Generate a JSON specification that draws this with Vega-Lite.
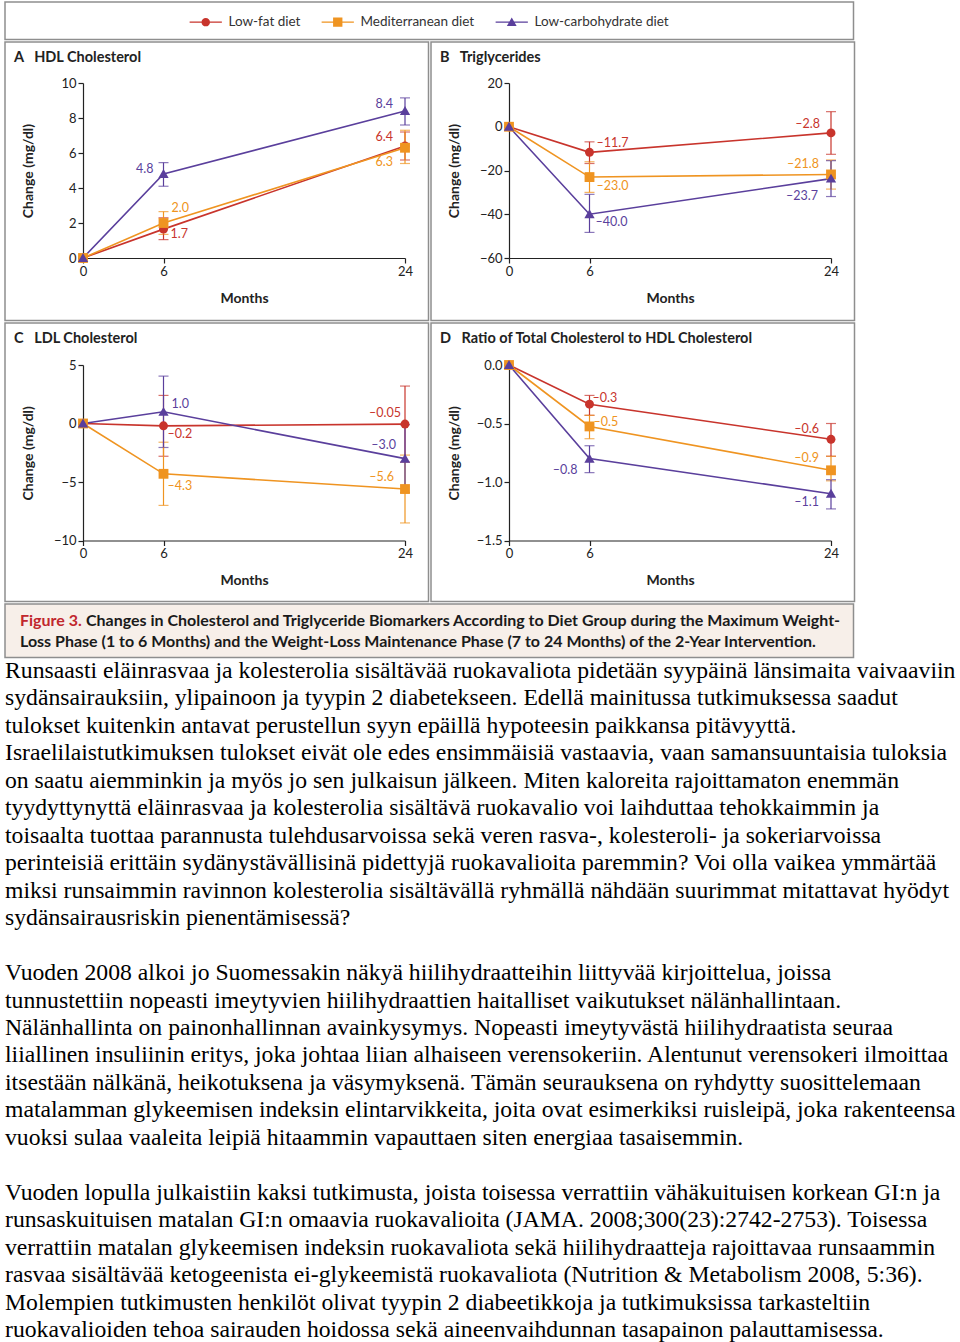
{
  "$schema": "https://vega.github.io/schema/vega-lite/v6.json",
  "background": "white",
  "padding": {"left": 4, "top": 1, "right": 0, "bottom": 0},
  "spacing": 0,
  "config": {
    "font": "Lato",
    "view": {"stroke": null},
    "axis": {"labelFont": "Lato", "titleFont": "Lato"},
    "title": {"font": "Lato"}
  },
  "datasets": {
    "pts": [
      {"panel": "A", "diet": "Low-fat diet", "month": 0, "value": 0, "lo": null, "hi": null, "label": null},
      {"panel": "A", "diet": "Low-fat diet", "month": 6, "value": 1.65, "lo": 1.05, "hi": 2.3, "label": "1.7"},
      {"panel": "A", "diet": "Low-fat diet", "month": 24, "value": 6.4, "lo": 5.6, "hi": 7.2, "label": "6.4"},
      {"panel": "A", "diet": "Mediterranean diet", "month": 0, "value": 0, "lo": null, "hi": null, "label": null},
      {"panel": "A", "diet": "Mediterranean diet", "month": 6, "value": 2.0, "lo": 1.35, "hi": 2.65, "label": "2.0"},
      {"panel": "A", "diet": "Mediterranean diet", "month": 24, "value": 6.3, "lo": 5.4, "hi": 7.3, "label": "6.3"},
      {"panel": "A", "diet": "Low-carbohydrate diet", "month": 0, "value": 0, "lo": null, "hi": null, "label": null},
      {"panel": "A", "diet": "Low-carbohydrate diet", "month": 6, "value": 4.8, "lo": 4.1, "hi": 5.45, "label": "4.8"},
      {"panel": "A", "diet": "Low-carbohydrate diet", "month": 24, "value": 8.4, "lo": 7.6, "hi": 9.15, "label": "8.4"},
      {"panel": "B", "diet": "Low-fat diet", "month": 0, "value": 0, "lo": null, "hi": null, "label": null},
      {"panel": "B", "diet": "Low-fat diet", "month": 6, "value": -11.7, "lo": -16.8, "hi": -6.9, "label": "–11.7"},
      {"panel": "B", "diet": "Low-fat diet", "month": 24, "value": -2.8, "lo": -12.6, "hi": 6.9, "label": "–2.8"},
      {"panel": "B", "diet": "Mediterranean diet", "month": 0, "value": 0, "lo": null, "hi": null, "label": null},
      {"panel": "B", "diet": "Mediterranean diet", "month": 6, "value": -23.0, "lo": -30.0, "hi": -16.0, "label": "–23.0"},
      {"panel": "B", "diet": "Mediterranean diet", "month": 24, "value": -21.8, "lo": -28.5, "hi": -15.2, "label": "–21.8"},
      {"panel": "B", "diet": "Low-carbohydrate diet", "month": 0, "value": 0, "lo": null, "hi": null, "label": null},
      {"panel": "B", "diet": "Low-carbohydrate diet", "month": 6, "value": -40.0, "lo": -48.3, "hi": -30.9, "label": "–40.0"},
      {"panel": "B", "diet": "Low-carbohydrate diet", "month": 24, "value": -23.7, "lo": -31.9, "hi": -15.5, "label": "–23.7"},
      {"panel": "C", "diet": "Low-fat diet", "month": 0, "value": 0, "lo": null, "hi": null, "label": null},
      {"panel": "C", "diet": "Low-fat diet", "month": 6, "value": -0.2, "lo": -2.8, "hi": 2.4, "label": "–0.2"},
      {"panel": "C", "diet": "Low-fat diet", "month": 24, "value": -0.05, "lo": -3.3, "hi": 3.2, "label": "–0.05"},
      {"panel": "C", "diet": "Mediterranean diet", "month": 0, "value": 0, "lo": null, "hi": null, "label": null},
      {"panel": "C", "diet": "Mediterranean diet", "month": 6, "value": -4.3, "lo": -7.0, "hi": -1.6, "label": "–4.3"},
      {"panel": "C", "diet": "Mediterranean diet", "month": 24, "value": -5.6, "lo": -8.5, "hi": -2.7, "label": "–5.6"},
      {"panel": "C", "diet": "Low-carbohydrate diet", "month": 0, "value": 0, "lo": null, "hi": null, "label": null},
      {"panel": "C", "diet": "Low-carbohydrate diet", "month": 6, "value": 1.0, "lo": -2.05, "hi": 4.05, "label": "1.0"},
      {"panel": "C", "diet": "Low-carbohydrate diet", "month": 24, "value": -3.0, "lo": -5.9, "hi": -0.1, "label": "–3.0"},
      {"panel": "D", "diet": "Low-fat diet", "month": 0, "value": 0, "lo": null, "hi": null, "label": null},
      {"panel": "D", "diet": "Low-fat diet", "month": 6, "value": -0.335, "lo": -0.43, "hi": -0.26, "label": "–0.3"},
      {"panel": "D", "diet": "Low-fat diet", "month": 24, "value": -0.635, "lo": -0.78, "hi": -0.5, "label": "–0.6"},
      {"panel": "D", "diet": "Mediterranean diet", "month": 0, "value": 0, "lo": null, "hi": null, "label": null},
      {"panel": "D", "diet": "Mediterranean diet", "month": 6, "value": -0.525, "lo": -0.63, "hi": -0.43, "label": "–0.5"},
      {"panel": "D", "diet": "Mediterranean diet", "month": 24, "value": -0.9, "lo": -0.99, "hi": -0.78, "label": "–0.9"},
      {"panel": "D", "diet": "Low-carbohydrate diet", "month": 0, "value": 0, "lo": null, "hi": null, "label": null},
      {"panel": "D", "diet": "Low-carbohydrate diet", "month": 6, "value": -0.8, "lo": -0.92, "hi": -0.69, "label": "–0.8"},
      {"panel": "D", "diet": "Low-carbohydrate diet", "month": 24, "value": -1.1, "lo": -1.23, "hi": -0.98, "label": "–1.1"}
    ],
    "cap": [
      {"line": 0, "part": "fig", "txt": "Figure 3."},
      {"line": 0, "part": "rest", "txt": "Changes in Cholesterol and Triglyceride Biomarkers According to Diet Group during the Maximum Weight-"},
      {"line": 1, "part": "rest", "txt": "Loss Phase (1 to 6 Months) and the Weight-Loss Maintenance Phase (7 to 24 Months) of the 2-Year Intervention."}
    ],
    "para": [
      {"slot": 0, "txt": "Runsaasti eläinrasvaa ja kolesterolia sisältävää ruokavaliota pidetään syypäinä länsimaita vaivaaviin"},
      {"slot": 1, "txt": "sydänsairauksiin, ylipainoon ja tyypin 2 diabetekseen. Edellä mainitussa tutkimuksessa saadut"},
      {"slot": 2, "txt": "tulokset kuitenkin antavat perustellun syyn epäillä hypoteesin paikkansa pitävyyttä."},
      {"slot": 3, "txt": "Israelilaistutkimuksen tulokset eivät ole edes ensimmäisiä vastaavia, vaan samansuuntaisia tuloksia"},
      {"slot": 4, "txt": "on saatu aiemminkin ja myös jo sen julkaisun jälkeen. Miten kaloreita rajoittamaton enemmän"},
      {"slot": 5, "txt": "tyydyttynyttä eläinrasvaa ja kolesterolia sisältävä ruokavalio voi laihduttaa tehokkaimmin ja"},
      {"slot": 6, "txt": "toisaalta tuottaa parannusta tulehdusarvoissa sekä veren rasva-, kolesteroli- ja sokeriarvoissa"},
      {"slot": 7, "txt": "perinteisiä erittäin sydänystävällisinä pidettyjä ruokavalioita paremmin? Voi olla vaikea ymmärtää"},
      {"slot": 8, "txt": "miksi runsaimmin ravinnon kolesterolia sisältävällä ryhmällä nähdään suurimmat mitattavat hyödyt"},
      {"slot": 9, "txt": "sydänsairausriskin pienentämisessä?"},
      {"slot": 11, "txt": "Vuoden 2008 alkoi jo Suomessakin näkyä hiilihydraatteihin liittyvää kirjoittelua, joissa"},
      {"slot": 12, "txt": "tunnustettiin nopeasti imeytyvien hiilihydraattien haitalliset vaikutukset nälänhallintaan."},
      {"slot": 13, "txt": "Nälänhallinta on painonhallinnan avainkysymys. Nopeasti imeytyvästä hiilihydraatista seuraa"},
      {"slot": 14, "txt": "liiallinen insuliinin eritys, joka johtaa liian alhaiseen verensokeriin. Alentunut verensokeri ilmoittaa"},
      {"slot": 15, "txt": "itsestään nälkänä, heikotuksena ja väsymyksenä. Tämän seurauksena on ryhdytty suosittelemaan"},
      {"slot": 16, "txt": "matalamman glykeemisen indeksin elintarvikkeita, joita ovat esimerkiksi ruisleipä, joka rakenteensa"},
      {"slot": 17, "txt": "vuoksi sulaa vaaleita leipiä hitaammin vapauttaen siten energiaa tasaisemmin."},
      {"slot": 19, "txt": "Vuoden lopulla julkaistiin kaksi tutkimusta, joista toisessa verrattiin vähäkuituisen korkean GI:n ja"},
      {"slot": 20, "txt": "runsaskuituisen matalan GI:n omaavia ruokavalioita (JAMA. 2008;300(23):2742-2753). Toisessa"},
      {"slot": 21, "txt": "verrattiin matalan glykeemisen indeksin ruokavaliota sekä hiilihydraatteja rajoittavaa runsaammin"},
      {"slot": 22, "txt": "rasvaa sisältävää ketogeenista ei-glykeemistä ruokavaliota (Nutrition & Metabolism 2008, 5:36)."},
      {"slot": 23, "txt": "Molempien tutkimusten henkilöt olivat tyypin 2 diabeetikkoja ja tutkimuksissa tarkasteltiin"},
      {"slot": 24, "txt": "ruokavalioiden tehoa sairauden hoidossa sekä aineenvaihdunnan tasapainon palauttamisessa."}
    ]
  },
  "resolve": {
    "scale": {"color": "independent", "shape": "independent", "x": "independent", "y": "independent"},
    "legend": {"color": "independent", "shape": "independent"}
  },
  "vconcat": [
    {
      "width": 848.5,
      "height": 37.5,
      "view": {"stroke": "#8e8e8e", "strokeWidth": 1.5},
      "data": {"name": "pts"},
      "transform": [{"filter": "datum.panel === 'A' && datum.month === 0"}],
      "mark": {"type": "point", "filled": true, "opacity": 0},
      "encoding": {
        "color": {
          "field": "diet", "type": "nominal",
          "scale": {"domain": ["Low-fat diet", "Mediterranean diet", "Low-carbohydrate diet"], "range": ["#c8342c", "#ef9421", "#5a3f9c"]},
          "legend": {"orient": "none", "legendX": 194, "legendY": 13, "direction": "horizontal", "title": null, "symbolSize": 72, "symbolOpacity": 1, "symbolStrokeWidth": 0, "labelFont": "Lato", "labelFontSize": 13.5, "labelColor": "#333", "labelOffset": 16, "columnPadding": 20}
        },
        "shape": {
          "field": "diet", "type": "nominal",
          "scale": {"domain": ["Low-fat diet", "Mediterranean diet", "Low-carbohydrate diet"], "range": [
            "M-3.8,-0.14L3.8,-0.14L3.8,0.14L-3.8,0.14Z M-1,0A1,1 0 1,1 1,0A1,1 0 1,1 -1,0Z",
            "M-3.8,-0.14L3.8,-0.14L3.8,0.14L-3.8,0.14Z M-1.1,-1.1L1.1,-1.1L1.1,1.1L-1.1,1.1Z",
            "M-3.8,-0.14L3.8,-0.14L3.8,0.14L-3.8,0.14Z M0,-1.1L1.15,0.9L-1.15,0.9Z"
          ]},
          "legend": {"orient": "none", "legendX": 194, "legendY": 13, "direction": "horizontal", "title": null, "symbolSize": 72, "symbolOpacity": 1, "symbolStrokeWidth": 0, "labelFont": "Lato", "labelFontSize": 13.5, "labelColor": "#333", "labelOffset": 16, "columnPadding": 20}
        }
      }
    },
    {
      "hconcat": [
        {
          "width": 423.5, "height": 278.5,
          "view": {"stroke": "#8e8e8e", "strokeWidth": 1.5},
          "title": {"text": "A\u00a0\u00a0\u00a0HDL Cholesterol", "anchor": "start", "frame": "group", "offset": -23, "dx": 9, "fontSize": 14.5, "fontWeight": "bold", "color": "#222"},
          "data": {"name": "pts"},
          "transform": [{"filter": "datum.panel === 'A'"}],
          "encoding": {
            "x": {"field": "month", "type": "quantitative", "scale": {"domain": [0, 24], "range": [78, 400]},
              "axis": {"values": [0, 6, 24], "offset": -62.5, "title": "Months", "format": "d", "grid": false, "labelFlush": false, "domainColor": "#222", "domainWidth": 1.2, "tickColor": "#222", "tickWidth": 1.2, "tickSize": 5, "labelFontSize": 13, "labelColor": "#222", "labelPadding": 2, "titleFontSize": 14, "titleFontWeight": "bold", "titleColor": "#222", "titlePadding": 13}},
            "y": {"field": "value", "type": "quantitative", "scale": {"domain": [0, 10], "range": [216, 41], "nice": false, "zero": false},
              "axis": {"values": [0, 2, 4, 6, 8, 10], "offset": -78, "title": "Change (mg/dl)", "format": "d", "grid": false, "domainColor": "#222", "domainWidth": 1.2, "tickColor": "#222", "tickWidth": 1.2, "tickSize": 5, "labelFontSize": 13, "labelColor": "#222", "labelPadding": 2, "titleFontSize": 14, "titleFontWeight": "bold", "titleColor": "#222", "titleX": -48}},
            "color": {"field": "diet", "type": "nominal", "scale": {"domain": ["Low-fat diet", "Mediterranean diet", "Low-carbohydrate diet"], "range": ["#c8342c", "#ef9421", "#5a3f9c"]}, "legend": null}
          },
          "layer": [
            {"mark": {"type": "errorbar", "ticks": true, "size": 10, "thickness": 1.2},
             "encoding": {"y": {"field": "lo", "type": "quantitative", "scale": {"domain": [0, 10], "range": [216, 41], "nice": false, "zero": false},
               "axis": {"values": [0, 2, 4, 6, 8, 10], "offset": -78, "title": "Change (mg/dl)", "format": "d", "grid": false, "domainColor": "#222", "domainWidth": 1.2, "tickColor": "#222", "tickWidth": 1.2, "tickSize": 5, "labelFontSize": 13, "labelColor": "#222", "labelPadding": 2, "titleFontSize": 14, "titleFontWeight": "bold", "titleColor": "#222", "titleX": -48}}, "y2": {"field": "hi"}}},
            {"mark": {"type": "line", "strokeWidth": 1.6}},
            {"mark": {"type": "point", "filled": true, "size": 80, "opacity": 1},
             "encoding": {"shape": {"field": "diet", "type": "nominal", "scale": {"domain": ["Low-fat diet", "Mediterranean diet", "Low-carbohydrate diet"], "range": ["circle", "M-1.1,-1.1L1.1,-1.1L1.1,1.1L-1.1,1.1Z", "M0,-1.1L1.15,0.9L-1.15,0.9Z"]}, "legend": null}}},
            {"transform": [{"filter": "datum.month === 6 && datum.diet === 'Low-carbohydrate diet'"}], "mark": {"type": "text", "align": "right", "baseline": "middle", "dx": -10, "dy": -5, "fontSize": 12.5}, "encoding": {"text": {"field": "label"}}},
            {"transform": [{"filter": "datum.month === 6 && datum.diet === 'Mediterranean diet'"}], "mark": {"type": "text", "align": "left", "baseline": "middle", "dx": 8, "dy": -15, "fontSize": 12.5}, "encoding": {"text": {"field": "label"}}},
            {"transform": [{"filter": "datum.month === 6 && datum.diet === 'Low-fat diet'"}], "mark": {"type": "text", "align": "left", "baseline": "middle", "dx": 7, "dy": 5, "fontSize": 12.5}, "encoding": {"text": {"field": "label"}}},
            {"transform": [{"filter": "datum.month === 24 && datum.diet === 'Low-carbohydrate diet'"}], "mark": {"type": "text", "align": "right", "baseline": "middle", "dx": -12, "dy": -7, "fontSize": 12.5}, "encoding": {"text": {"field": "label"}}},
            {"transform": [{"filter": "datum.month === 24 && datum.diet === 'Low-fat diet'"}], "mark": {"type": "text", "align": "right", "baseline": "middle", "dx": -12, "dy": -9, "fontSize": 12.5}, "encoding": {"text": {"field": "label"}}},
            {"transform": [{"filter": "datum.month === 24 && datum.diet === 'Mediterranean diet'"}], "mark": {"type": "text", "align": "right", "baseline": "middle", "dx": -12, "dy": 14, "fontSize": 12.5}, "encoding": {"text": {"field": "label"}}}
          ]
        },
        {
          "width": 423.5, "height": 278.5,
          "view": {"stroke": "#8e8e8e", "strokeWidth": 1.5},
          "title": {"text": "B\u00a0\u00a0\u00a0Triglycerides", "anchor": "start", "frame": "group", "offset": -23, "dx": 9, "fontSize": 14.5, "fontWeight": "bold", "color": "#222"},
          "data": {"name": "pts"},
          "transform": [{"filter": "datum.panel === 'B'"}],
          "encoding": {
            "x": {"field": "month", "type": "quantitative", "scale": {"domain": [0, 24], "range": [78, 400]},
              "axis": {"values": [0, 6, 24], "offset": -62.5, "title": "Months", "format": "d", "grid": false, "labelFlush": false, "domainColor": "#222", "domainWidth": 1.2, "tickColor": "#222", "tickWidth": 1.2, "tickSize": 5, "labelFontSize": 13, "labelColor": "#222", "labelPadding": 2, "titleFontSize": 14, "titleFontWeight": "bold", "titleColor": "#222", "titlePadding": 13}},
            "y": {"field": "value", "type": "quantitative", "scale": {"domain": [-60, 20], "range": [216, 41], "nice": false, "zero": false},
              "axis": {"values": [-60, -40, -20, 0, 20], "offset": -78, "title": "Change (mg/dl)", "format": "d", "grid": false, "domainColor": "#222", "domainWidth": 1.2, "tickColor": "#222", "tickWidth": 1.2, "tickSize": 5, "labelFontSize": 13, "labelColor": "#222", "labelPadding": 2, "titleFontSize": 14, "titleFontWeight": "bold", "titleColor": "#222", "titleX": -48}},
            "color": {"field": "diet", "type": "nominal", "scale": {"domain": ["Low-fat diet", "Mediterranean diet", "Low-carbohydrate diet"], "range": ["#c8342c", "#ef9421", "#5a3f9c"]}, "legend": null}
          },
          "layer": [
            {"mark": {"type": "errorbar", "ticks": true, "size": 10, "thickness": 1.2},
             "encoding": {"y": {"field": "lo", "type": "quantitative", "scale": {"domain": [-60, 20], "range": [216, 41], "nice": false, "zero": false},
               "axis": {"values": [-60, -40, -20, 0, 20], "offset": -78, "title": "Change (mg/dl)", "format": "d", "grid": false, "domainColor": "#222", "domainWidth": 1.2, "tickColor": "#222", "tickWidth": 1.2, "tickSize": 5, "labelFontSize": 13, "labelColor": "#222", "labelPadding": 2, "titleFontSize": 14, "titleFontWeight": "bold", "titleColor": "#222", "titleX": -48}}, "y2": {"field": "hi"}}},
            {"mark": {"type": "line", "strokeWidth": 1.6}},
            {"mark": {"type": "point", "filled": true, "size": 80, "opacity": 1},
             "encoding": {"shape": {"field": "diet", "type": "nominal", "scale": {"domain": ["Low-fat diet", "Mediterranean diet", "Low-carbohydrate diet"], "range": ["circle", "M-1.1,-1.1L1.1,-1.1L1.1,1.1L-1.1,1.1Z", "M0,-1.1L1.15,0.9L-1.15,0.9Z"]}, "legend": null}}},
            {"transform": [{"filter": "datum.month === 6 && datum.diet === 'Low-fat diet'"}], "mark": {"type": "text", "align": "left", "baseline": "middle", "dx": 7, "dy": -9, "fontSize": 12.5}, "encoding": {"text": {"field": "label"}}},
            {"transform": [{"filter": "datum.month === 6 && datum.diet === 'Mediterranean diet'"}], "mark": {"type": "text", "align": "left", "baseline": "middle", "dx": 7, "dy": 9, "fontSize": 12.5}, "encoding": {"text": {"field": "label"}}},
            {"transform": [{"filter": "datum.month === 6 && datum.diet === 'Low-carbohydrate diet'"}], "mark": {"type": "text", "align": "left", "baseline": "middle", "dx": 6, "dy": 8, "fontSize": 12.5}, "encoding": {"text": {"field": "label"}}},
            {"transform": [{"filter": "datum.month === 24 && datum.diet === 'Low-fat diet'"}], "mark": {"type": "text", "align": "right", "baseline": "middle", "dx": -11, "dy": -9, "fontSize": 12.5}, "encoding": {"text": {"field": "label"}}},
            {"transform": [{"filter": "datum.month === 24 && datum.diet === 'Mediterranean diet'"}], "mark": {"type": "text", "align": "right", "baseline": "middle", "dx": -12, "dy": -10, "fontSize": 12.5}, "encoding": {"text": {"field": "label"}}},
            {"transform": [{"filter": "datum.month === 24 && datum.diet === 'Low-carbohydrate diet'"}], "mark": {"type": "text", "align": "right", "baseline": "middle", "dx": -13, "dy": 17, "fontSize": 12.5}, "encoding": {"text": {"field": "label"}}}
          ]
        }
      ],
      "spacing": 0,
      "resolve": {"scale": {"color": "independent", "shape": "independent", "x": "independent", "y": "independent"}}
    },
    {
      "hconcat": [
        {
          "width": 423.5, "height": 278.5,
          "view": {"stroke": "#8e8e8e", "strokeWidth": 1.5},
          "title": {"text": "C\u00a0\u00a0\u00a0LDL Cholesterol", "anchor": "start", "frame": "group", "offset": -23, "dx": 9, "fontSize": 14.5, "fontWeight": "bold", "color": "#222"},
          "data": {"name": "pts"},
          "transform": [{"filter": "datum.panel === 'C'"}],
          "encoding": {
            "x": {"field": "month", "type": "quantitative", "scale": {"domain": [0, 24], "range": [78, 400]},
              "axis": {"values": [0, 6, 24], "offset": -61, "title": "Months", "format": "d", "grid": false, "labelFlush": false, "domainColor": "#222", "domainWidth": 1.2, "tickColor": "#222", "tickWidth": 1.2, "tickSize": 5, "labelFontSize": 13, "labelColor": "#222", "labelPadding": 2, "titleFontSize": 14, "titleFontWeight": "bold", "titleColor": "#222", "titlePadding": 13}},
            "y": {"field": "value", "type": "quantitative", "scale": {"domain": [-10, 5], "range": [217.5, 42], "nice": false, "zero": false},
              "axis": {"values": [-10, -5, 0, 5], "offset": -78, "title": "Change (mg/dl)", "format": "d", "grid": false, "domainColor": "#222", "domainWidth": 1.2, "tickColor": "#222", "tickWidth": 1.2, "tickSize": 5, "labelFontSize": 13, "labelColor": "#222", "labelPadding": 2, "titleFontSize": 14, "titleFontWeight": "bold", "titleColor": "#222", "titleX": -48}},
            "color": {"field": "diet", "type": "nominal", "scale": {"domain": ["Low-fat diet", "Mediterranean diet", "Low-carbohydrate diet"], "range": ["#c8342c", "#ef9421", "#5a3f9c"]}, "legend": null}
          },
          "layer": [
            {"mark": {"type": "errorbar", "ticks": true, "size": 10, "thickness": 1.2},
             "encoding": {"y": {"field": "lo", "type": "quantitative", "scale": {"domain": [-10, 5], "range": [217.5, 42], "nice": false, "zero": false},
               "axis": {"values": [-10, -5, 0, 5], "offset": -78, "title": "Change (mg/dl)", "format": "d", "grid": false, "domainColor": "#222", "domainWidth": 1.2, "tickColor": "#222", "tickWidth": 1.2, "tickSize": 5, "labelFontSize": 13, "labelColor": "#222", "labelPadding": 2, "titleFontSize": 14, "titleFontWeight": "bold", "titleColor": "#222", "titleX": -48}}, "y2": {"field": "hi"}}},
            {"mark": {"type": "line", "strokeWidth": 1.6}},
            {"mark": {"type": "point", "filled": true, "size": 80, "opacity": 1},
             "encoding": {"shape": {"field": "diet", "type": "nominal", "scale": {"domain": ["Low-fat diet", "Mediterranean diet", "Low-carbohydrate diet"], "range": ["circle", "M-1.1,-1.1L1.1,-1.1L1.1,1.1L-1.1,1.1Z", "M0,-1.1L1.15,0.9L-1.15,0.9Z"]}, "legend": null}}},
            {"transform": [{"filter": "datum.month === 6 && datum.diet === 'Low-carbohydrate diet'"}], "mark": {"type": "text", "align": "left", "baseline": "middle", "dx": 8, "dy": -8, "fontSize": 12.5}, "encoding": {"text": {"field": "label"}}},
            {"transform": [{"filter": "datum.month === 6 && datum.diet === 'Low-fat diet'"}], "mark": {"type": "text", "align": "left", "baseline": "middle", "dx": 4, "dy": 8, "fontSize": 12.5}, "encoding": {"text": {"field": "label"}}},
            {"transform": [{"filter": "datum.month === 6 && datum.diet === 'Mediterranean diet'"}], "mark": {"type": "text", "align": "left", "baseline": "middle", "dx": 4, "dy": 12, "fontSize": 12.5}, "encoding": {"text": {"field": "label"}}},
            {"transform": [{"filter": "datum.month === 24 && datum.diet === 'Low-fat diet'"}], "mark": {"type": "text", "align": "right", "baseline": "middle", "dx": -4, "dy": -11, "fontSize": 12.5}, "encoding": {"text": {"field": "label"}}},
            {"transform": [{"filter": "datum.month === 24 && datum.diet === 'Low-carbohydrate diet'"}], "mark": {"type": "text", "align": "right", "baseline": "middle", "dx": -9, "dy": -14, "fontSize": 12.5}, "encoding": {"text": {"field": "label"}}},
            {"transform": [{"filter": "datum.month === 24 && datum.diet === 'Mediterranean diet'"}], "mark": {"type": "text", "align": "right", "baseline": "middle", "dx": -11, "dy": -12, "fontSize": 12.5}, "encoding": {"text": {"field": "label"}}}
          ]
        },
        {
          "width": 423.5, "height": 278.5,
          "view": {"stroke": "#8e8e8e", "strokeWidth": 1.5},
          "title": {"text": "D\u00a0\u00a0\u00a0Ratio of Total Cholesterol to HDL Cholesterol", "anchor": "start", "frame": "group", "offset": -23, "dx": 9, "fontSize": 14.5, "fontWeight": "bold", "color": "#222"},
          "data": {"name": "pts"},
          "transform": [{"filter": "datum.panel === 'D'"}],
          "encoding": {
            "x": {"field": "month", "type": "quantitative", "scale": {"domain": [0, 24], "range": [78, 400]},
              "axis": {"values": [0, 6, 24], "offset": -61, "title": "Months", "format": "d", "grid": false, "labelFlush": false, "domainColor": "#222", "domainWidth": 1.2, "tickColor": "#222", "tickWidth": 1.2, "tickSize": 5, "labelFontSize": 13, "labelColor": "#222", "labelPadding": 2, "titleFontSize": 14, "titleFontWeight": "bold", "titleColor": "#222", "titlePadding": 13}},
            "y": {"field": "value", "type": "quantitative", "scale": {"domain": [-1.5, 0], "range": [217.5, 42], "nice": false, "zero": false},
              "axis": {"values": [-1.5, -1, -0.5, 0], "offset": -78, "title": "Change (mg/dl)", "format": ".1f", "grid": false, "domainColor": "#222", "domainWidth": 1.2, "tickColor": "#222", "tickWidth": 1.2, "tickSize": 5, "labelFontSize": 13, "labelColor": "#222", "labelPadding": 2, "titleFontSize": 14, "titleFontWeight": "bold", "titleColor": "#222", "titleX": -48}},
            "color": {"field": "diet", "type": "nominal", "scale": {"domain": ["Low-fat diet", "Mediterranean diet", "Low-carbohydrate diet"], "range": ["#c8342c", "#ef9421", "#5a3f9c"]}, "legend": null}
          },
          "layer": [
            {"mark": {"type": "errorbar", "ticks": true, "size": 10, "thickness": 1.2},
             "encoding": {"y": {"field": "lo", "type": "quantitative", "scale": {"domain": [-1.5, 0], "range": [217.5, 42], "nice": false, "zero": false},
               "axis": {"values": [-1.5, -1, -0.5, 0], "offset": -78, "title": "Change (mg/dl)", "format": ".1f", "grid": false, "domainColor": "#222", "domainWidth": 1.2, "tickColor": "#222", "tickWidth": 1.2, "tickSize": 5, "labelFontSize": 13, "labelColor": "#222", "labelPadding": 2, "titleFontSize": 14, "titleFontWeight": "bold", "titleColor": "#222", "titleX": -48}}, "y2": {"field": "hi"}}},
            {"mark": {"type": "line", "strokeWidth": 1.6}},
            {"mark": {"type": "point", "filled": true, "size": 80, "opacity": 1},
             "encoding": {"shape": {"field": "diet", "type": "nominal", "scale": {"domain": ["Low-fat diet", "Mediterranean diet", "Low-carbohydrate diet"], "range": ["circle", "M-1.1,-1.1L1.1,-1.1L1.1,1.1L-1.1,1.1Z", "M0,-1.1L1.15,0.9L-1.15,0.9Z"]}, "legend": null}}},
            {"transform": [{"filter": "datum.month === 6 && datum.diet === 'Low-fat diet'"}], "mark": {"type": "text", "align": "left", "baseline": "middle", "dx": 3, "dy": -6, "fontSize": 12.5}, "encoding": {"text": {"field": "label"}}},
            {"transform": [{"filter": "datum.month === 6 && datum.diet === 'Mediterranean diet'"}], "mark": {"type": "text", "align": "left", "baseline": "middle", "dx": 4, "dy": -4, "fontSize": 12.5}, "encoding": {"text": {"field": "label"}}},
            {"transform": [{"filter": "datum.month === 6 && datum.diet === 'Low-carbohydrate diet'"}], "mark": {"type": "text", "align": "right", "baseline": "middle", "dx": -12, "dy": 11, "fontSize": 12.5}, "encoding": {"text": {"field": "label"}}},
            {"transform": [{"filter": "datum.month === 24 && datum.diet === 'Low-fat diet'"}], "mark": {"type": "text", "align": "right", "baseline": "middle", "dx": -12, "dy": -10, "fontSize": 12.5}, "encoding": {"text": {"field": "label"}}},
            {"transform": [{"filter": "datum.month === 24 && datum.diet === 'Mediterranean diet'"}], "mark": {"type": "text", "align": "right", "baseline": "middle", "dx": -12, "dy": -12, "fontSize": 12.5}, "encoding": {"text": {"field": "label"}}},
            {"transform": [{"filter": "datum.month === 24 && datum.diet === 'Low-carbohydrate diet'"}], "mark": {"type": "text", "align": "right", "baseline": "middle", "dx": -12, "dy": 8, "fontSize": 12.5}, "encoding": {"text": {"field": "label"}}}
          ]
        }
      ],
      "spacing": 0,
      "resolve": {"scale": {"color": "independent", "shape": "independent", "x": "independent", "y": "independent"}}
    },
    {
      "width": 848.5,
      "height": 53.5,
      "view": {"fill": "#f7efe9", "stroke": "#8e8e8e", "strokeWidth": 1.5},
      "data": {"name": "cap"},
      "encoding": {
        "x": {"value": 15},
        "y": {"field": "line", "type": "quantitative", "scale": {"domain": [0, 1], "range": [17, 38]}, "axis": null},
        "text": {"field": "txt"}
      },
      "layer": [
        {"transform": [{"filter": "datum.part === 'fig'"}], "mark": {"type": "text", "align": "left", "baseline": "middle", "font": "Lato", "fontSize": 16, "fontWeight": "bold", "color": "#c1272d"}},
        {"transform": [{"filter": "datum.part === 'rest' && datum.line === 0"}], "mark": {"type": "text", "align": "left", "baseline": "middle", "font": "Lato", "fontSize": 16, "fontWeight": "bold", "color": "#1a1a1a", "dx": 66}},
        {"transform": [{"filter": "datum.part === 'rest' && datum.line === 1"}], "mark": {"type": "text", "align": "left", "baseline": "middle", "font": "Lato", "fontSize": 16, "fontWeight": "bold", "color": "#1a1a1a"}}
      ]
    },
    {
      "width": 952,
      "height": 686,
      "data": {"name": "para"},
      "mark": {"type": "text", "align": "left", "baseline": "middle", "font": "Liberation Serif", "fontSize": 23.7, "color": "#000"},
      "encoding": {
        "x": {"value": 0},
        "y": {"field": "slot", "type": "quantitative", "scale": {"domain": [0, 24], "range": [12, 671]}, "axis": null},
        "text": {"field": "txt"}
      }
    }
  ]
}
